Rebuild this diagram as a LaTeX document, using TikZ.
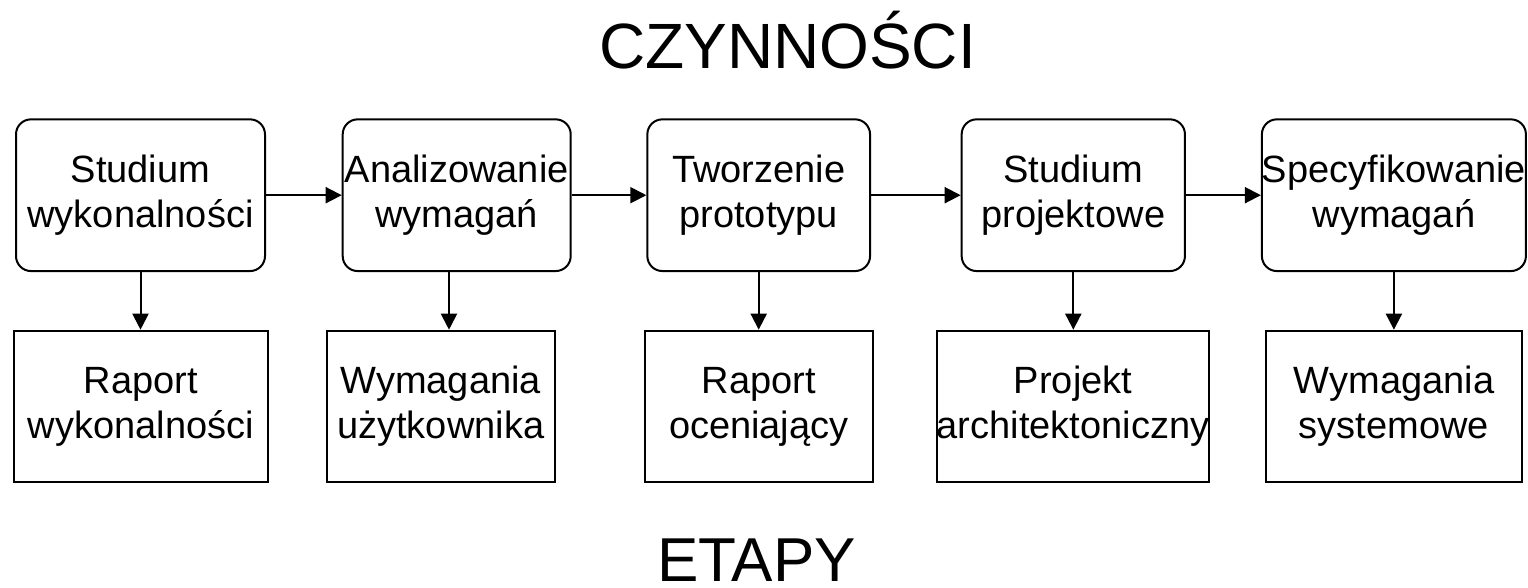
\documentclass[tikz,border=0pt]{standalone}
\usepackage{fontspec}
\setmainfont{Liberation Sans}
\usetikzlibrary{arrows.meta}

\tikzset{
  stage/.style={draw, line width=2pt, rounded corners=15pt, inner sep=0pt,
    align=center, font=\fontsize{38}{45}\selectfont},
  product/.style={draw, line width=2pt, inner sep=0pt,
    align=center, font=\fontsize{38}{45}\selectfont},
  flow/.style={line width=2pt, -{Triangle[length=16pt,width=16pt]}},
  heading/.style={anchor=base, inner sep=0pt}
}

\begin{document}
\begin{tikzpicture}[x=1pt,y=-1pt]
  \useasboundingbox (0,0) rectangle (1528,588);

  % activities (top row)
  \node[stage, minimum width=249pt,   minimum height=151.7pt] (t1) at (140.5,195.2) {Studium\\wykonalności};
  \node[stage, minimum width=228pt,   minimum height=151.7pt] (t2) at (456.7,195.2) {Analizowanie\\wymagań};
  \node[stage, minimum width=222.7pt, minimum height=151.7pt] (t3) at (758.7,195.2) {Tworzenie\\prototypu};
  \node[stage, minimum width=223.3pt, minimum height=151.7pt] (t4) at (1073.3,195.2) {Studium\\projektowe};
  \node[stage, minimum width=257.7pt, minimum height=151.7pt] (t5) at (1393.9,195.2) {Specyfikowanie\\wymagań};

  % deliverables (bottom row)
  \node[product, minimum width=253.7pt, minimum height=151.6pt] (b1) at (140.8,406.5) {Raport\\wykonalności};
  \node[product, minimum width=228pt,   minimum height=151.6pt] (b2) at (440.7,406.5) {Wymagania\\użytkownika};
  \node[product, minimum width=227.7pt, minimum height=151.6pt] (b3) at (758.8,406.5) {Raport\\oceniający};
  \node[product, minimum width=272.6pt, minimum height=151.6pt] (b4) at (1073,406.5) {Projekt\\architektoniczny};
  \node[product, minimum width=256.6pt, minimum height=151.6pt] (b5) at (1394,406.5) {Wymagania\\systemowe};

  % headings
  \node[heading, font=\fontsize{64}{77}\selectfont] (top) at (787.5,68.3) {CZYNNOŚCI};
  \node[heading, font=\fontsize{62}{74}\selectfont] (bottom) at (756.5,581) {ETAPY};

  % sequence of activities
  \draw[flow] (t1.east) -- (t2.west);
  \draw[flow] (t2.east) -- (t3.west);
  \draw[flow] (t3.east) -- (t4.west);
  \draw[flow] (t4.east) -- (t5.west);

  % each activity yields a deliverable
  \draw[flow] (t1.south) -- (t1.south |- b1.north);
  \draw[flow] ([xshift=-7.7pt]t2.south) -- ([xshift=-7.7pt]t2.south |- b2.north);
  \draw[flow] (t3.south) -- (t3.south |- b3.north);
  \draw[flow] (t4.south) -- (t4.south |- b4.north);
  \draw[flow] (t5.south) -- (t5.south |- b5.north);
\end{tikzpicture}
\end{document}
